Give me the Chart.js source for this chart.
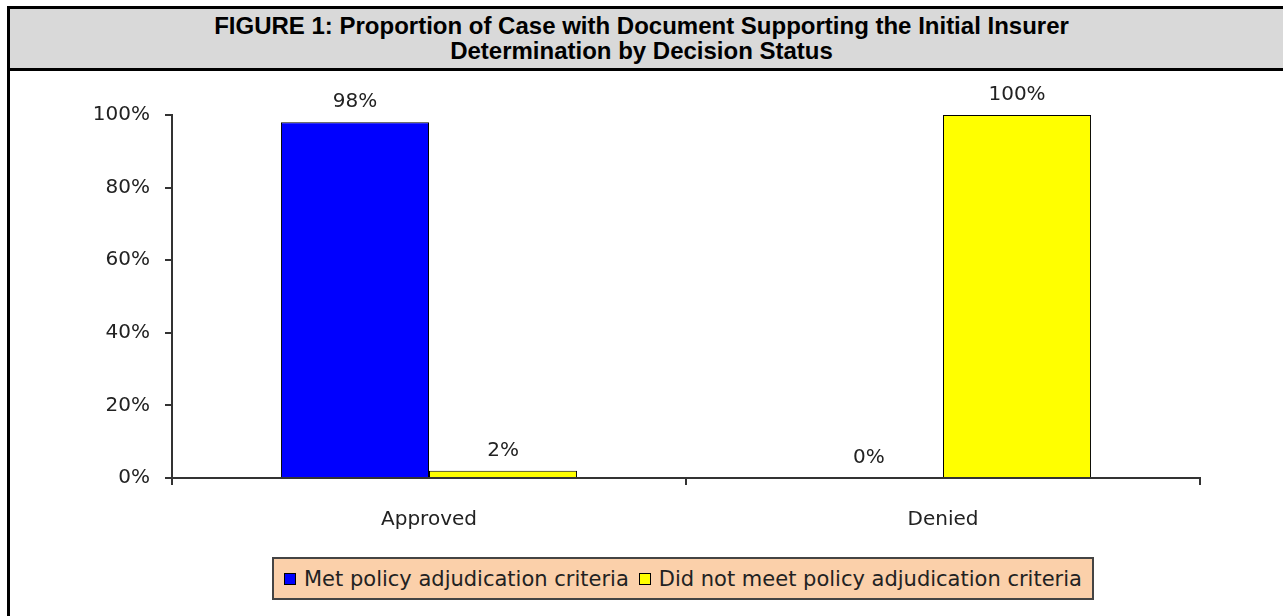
<!DOCTYPE html>
<html>
<head>
<meta charset="utf-8">
<script src="https://cdn.jsdelivr.net/npm/chart.js@4.4.1/dist/chart.umd.min.js"></script>
<style>
  html, body { margin: 0; padding: 0; background: #fff; width: 1283px; height: 616px; overflow: hidden; }
  #frame { position: absolute; left: 7px; top: 6px; width: 1300px; height: 640px; border-left: 3px solid #000; border-top: 3px solid #000; }
  #title {
    position: absolute; left: 10px; top: 9px; width: 1300px; height: 59px;
    background: #d9d9d9; border-bottom: 3px solid #000;
    font: bold 24px/25px "Liberation Sans", Arial, sans-serif; color: #000;
  }
  #title div { position: absolute; left: 0; width: 1263px; text-align: center; }
  #chartBox { position: absolute; left: 10px; top: 72px; width: 1273px; height: 544px; }
  #legend {
    position: absolute; left: 272px; top: 557px; height: 39px;
    background: #fbd0aa; border: 2px solid #444; padding: 0 10px 0 10px;
    font: 21px "DejaVu Sans", sans-serif; color: #222; white-space: nowrap;
    display: flex; align-items: center;
  }
  #legend span.box { display: inline-block; width: 10px; height: 10px; border: 1px solid #000; margin: 0 8px 0 0; }
  #legend span.item { display: inline-flex; align-items: center; margin-right: 10px; }
  #legend span.item:last-child { margin-right: 0; }
</style>
</head>
<body>
<div id="frame"></div>
<div id="title">
  <div style="top:4px">FIGURE 1: Proportion of Case with Document Supporting the Initial Insurer</div>
  <div style="top:29px">Determination by Decision Status</div>
</div>
<div id="chartBox"><canvas id="chart" width="1273" height="544"></canvas></div>
<div id="legend"></div>

<script>
const categories = ["Approved", "Denied"];
const metCriteria = [98, 0];
const notMetCriteria = [2, 100];
const yTicks = [0, 20, 40, 60, 80, 100];

const COLORS = {
  blue:   "#0000ff",
  yellow: "#ffff00",
  text:   "#222222",
  axis:   "#333333"
};

const FONT = "'DejaVu Sans', sans-serif";

// value labels above each bar
const valueLabels = {
  id: "valueLabels",
  afterDatasetsDraw(chart) {
    const ctx = chart.ctx;
    ctx.save();
    ctx.font = "20px " + FONT;
    ctx.fillStyle = COLORS.text;
    ctx.textAlign = "center";
    ctx.textBaseline = "bottom";
    chart.data.datasets.forEach((ds, i) => {
      chart.getDatasetMeta(i).data.forEach((bar, j) => {
        ctx.fillText(ds.data[j] + "%", bar.x, bar.y - 10);
      });
    });
    ctx.restore();
  }
};

const chart = new Chart(document.getElementById("chart"), {
  type: "bar",
  data: {
    labels: categories,
    datasets: [
      { label: "Met policy adjudication criteria", data: metCriteria,
        backgroundColor: COLORS.blue, borderColor: "#000", borderWidth: 1 },
      { label: "Did not meet policy adjudication criteria", data: notMetCriteria,
        backgroundColor: COLORS.yellow, borderColor: "#000", borderWidth: 1 }
    ]
  },
  options: {
    responsive: false,
    animation: false,
    layout: { padding: { top: 43, right: 83, bottom: 0, left: 0 } },
    plugins: {
      legend: { display: false },
      tooltip: { enabled: false }
    },
    datasets: { bar: { categoryPercentage: 0.576, barPercentage: 1 } },
    scales: {
      x: {
        grid: { drawOnChartArea: false, drawTicks: true, tickLength: 7, color: COLORS.axis, lineWidth: 2 },
        border: { color: COLORS.axis, width: 2 },
        ticks: { color: COLORS.text, font: { family: FONT, size: 20 }, padding: 23 },
        afterFit(scale) { scale.height = 138; }
      },
      y: {
        min: 0, max: 100,
        afterBuildTicks(scale) { scale.ticks = yTicks.map(v => ({ value: v })); },
        grid: { drawOnChartArea: false, drawTicks: true, tickLength: 7, color: COLORS.axis, lineWidth: 2 },
        border: { color: COLORS.axis, width: 2 },
        ticks: { color: COLORS.text, font: { family: FONT, size: 20 }, padding: 15, callback: v => v + "%" },
        afterFit(scale) { scale.width = 162; }
      }
    }
  },
  plugins: [valueLabels]
});

// legend with the old spreadsheet look
const legendEl = document.getElementById("legend");
legendEl.innerHTML = chart.data.datasets.map(ds =>
  `<span class="item"><span class="box" style="background:${ds.backgroundColor}"></span>${ds.label}</span>`
).join("");
</script>
</body>
</html>
